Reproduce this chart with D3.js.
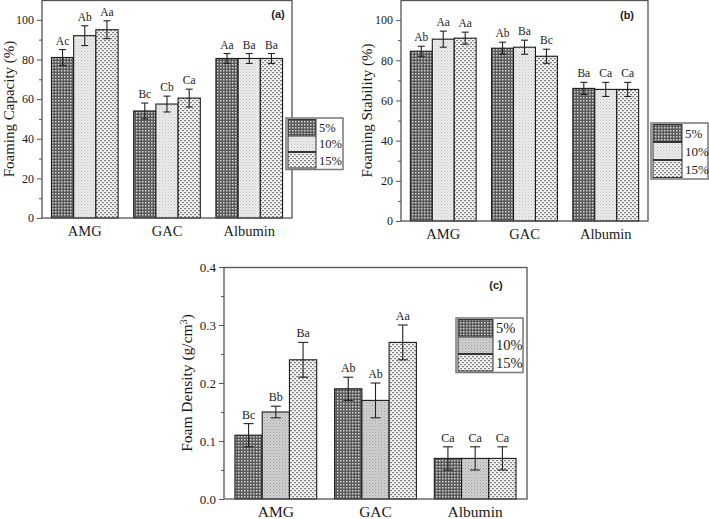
<!DOCTYPE html>
<html><head><meta charset="utf-8">
<script src="https://cdn.jsdelivr.net/npm/d3@7"></script>
<style>body{margin:0;background:#fff}svg{display:block}</style>
</head><body>
<script>
const categories = ["AMG", "GAC", "Albumin"];
const seriesNames = ["5%", "10%", "15%"];

// (a) Foaming capacity (%)  rows: category, cols: series
const capacityValues = [[81, 92, 95], [54, 57.5, 60.5], [80.5, 80.5, 80.5]];
const capacityErrors = [[4, 5, 4.5], [4, 4, 4.5], [2.5, 2.5, 2.5]];
const capacityLetters = [["Ac", "Ab", "Aa"], ["Bc", "Cb", "Ca"], ["Aa", "Ba", "Ba"]];
const capacityTicks = [0, 20, 40, 60, 80, 100];

// (b) Foaming stability (%)
const stabilityValues = [[84.5, 90.5, 91], [86, 86.5, 82], [66, 65.5, 65.5]];
const stabilityErrors = [[2.5, 4, 3], [3, 3.5, 3.5], [3, 3.5, 3.5]];
const stabilityLetters = [["Ab", "Aa", "Aa"], ["Ab", "Ba", "Bc"], ["Ba", "Ca", "Ca"]];
const stabilityTicks = [0, 20, 40, 60, 80, 100];

// (c) Foam density (g/cm3)
const densityValues = [[0.11, 0.15, 0.24], [0.19, 0.17, 0.27], [0.07, 0.07, 0.07]];
const densityErrors = [[0.02, 0.01, 0.03], [0.02, 0.03, 0.03], [0.02, 0.02, 0.02]];
const densityLetters = [["Bc", "Bb", "Ba"], ["Ab", "Ab", "Aa"], ["Ca", "Ca", "Ca"]];
const densityTicks = [0.0, 0.1, 0.2, 0.3, 0.4];

const W = 709, H = 519;
const svg = d3.select("body").append("svg").attr("width", W).attr("height", H);
const defs = svg.append("defs");

function makePatterns(id, dark10) {
  // 5% : dense checker / crosshatch
  let p = defs.append("pattern").attr("id", id + "p0").attr("patternUnits", "userSpaceOnUse").attr("width", 3).attr("height", 3);
  p.append("rect").attr("width", 3).attr("height", 3).attr("fill", "#5a5a5a");
  p.append("rect").attr("x", 1).attr("y", 1).attr("width", 1.5).attr("height", 1.5).attr("fill", "#d4d4d4");
  // 10% : light fine dots
  p = defs.append("pattern").attr("id", id + "p1").attr("patternUnits", "userSpaceOnUse").attr("width", 3).attr("height", 3);
  p.append("rect").attr("width", 3).attr("height", 3).attr("fill", dark10 ? "#d0d0d0" : "#ececec");
  p.append("rect").attr("x", 0).attr("y", 0).attr("width", 1).attr("height", 1).attr("fill", dark10 ? "#a0a0a0" : "#c0c0c0");
  p.append("rect").attr("x", 1.5).attr("y", 1.5).attr("width", 1).attr("height", 1).attr("fill", dark10 ? "#b4b4b4" : "#d2d2d2");
  // 15% : white with gray dashes
  p = defs.append("pattern").attr("id", id + "p2").attr("patternUnits", "userSpaceOnUse").attr("width", 4).attr("height", 4);
  p.append("rect").attr("width", 4).attr("height", 4).attr("fill", "#f2f2f2");
  p.append("rect").attr("x", 0).attr("y", 0).attr("width", 2).attr("height", 1.2).attr("fill", "#808080");
  p.append("rect").attr("x", 2).attr("y", 2).attr("width", 2).attr("height", 1.2).attr("fill", "#808080");
}

function panel(cfg) {
  const g = svg.append("g");
  makePatterns(cfg.id, cfg.dark10);
  const x = d3.scaleBand().domain(categories).range([cfg.x0, cfg.x1]).paddingInner(cfg.pad).paddingOuter(cfg.pad / 2 + 0.02);
  const xs = d3.scaleBand().domain(seriesNames).range([0, x.bandwidth()]);
  const y = d3.scaleLinear().domain(cfg.domain).range([cfg.y1, cfg.y0]);

  categories.forEach((c, i) => {
    seriesNames.forEach((s, j) => {
      const v = cfg.values[i][j], e = cfg.errors[i][j];
      const bx = x(c) + xs(s);
      g.append("rect").attr("x", bx).attr("y", y(v)).attr("width", xs.bandwidth()).attr("height", y(0) - y(v))
        .attr("fill", `url(#${cfg.id}p${j})`).attr("stroke", "#1a1a1a").attr("stroke-width", 1.1);
      const cx = bx + xs.bandwidth() / 2;
      const cw = cfg.cap;
      g.append("line").attr("x1", cx).attr("x2", cx).attr("y1", y(v - e)).attr("y2", y(v + e)).attr("stroke", "#222").attr("stroke-width", 1.1);
      g.append("line").attr("x1", cx - cw).attr("x2", cx + cw).attr("y1", y(v - e)).attr("y2", y(v - e)).attr("stroke", "#222").attr("stroke-width", 1.1);
      g.append("line").attr("x1", cx - cw).attr("x2", cx + cw).attr("y1", y(v + e)).attr("y2", y(v + e)).attr("stroke", "#222").attr("stroke-width", 1.1);
      g.append("text").attr("x", cx).attr("y", y(v + e) - 5).attr("text-anchor", "middle")
        .attr("font-family", "Liberation Serif").attr("font-size", cfg.letterSize).attr("fill", "#1a1a1a").text(cfg.letters[i][j]);
    });
  });

  g.append("rect").attr("x", cfg.x0).attr("y", cfg.y0 + 0.5).attr("width", cfg.x1 - cfg.x0).attr("height", cfg.y1 - cfg.y0 - 0.5)
    .attr("fill", "none").attr("stroke", "#555").attr("stroke-width", 1.3);

  const ax = g.append("g").attr("transform", `translate(${cfg.x0},0)`)
    .call(d3.axisLeft(y).tickValues(cfg.ticks).tickFormat(cfg.fmt).tickSize(5).tickPadding(3));
  ax.select(".domain").remove();
  ax.selectAll("line").attr("stroke", "#555");
  ax.selectAll("text").attr("font-family", "Liberation Serif").attr("font-size", cfg.tickSize).attr("fill", "#1a1a1a");
  const minor = [];
  for (let k = 0; k < cfg.ticks.length - 1; k++) minor.push((cfg.ticks[k] + cfg.ticks[k + 1]) / 2);
  const mx = g.append("g").attr("transform", `translate(${cfg.x0},0)`)
    .call(d3.axisLeft(y).tickValues(minor).tickFormat("").tickSize(3));
  mx.select(".domain").remove();
  mx.selectAll("line").attr("stroke", "#555");

  categories.forEach(c => {
    g.append("text").attr("x", x(c) + x.bandwidth() / 2).attr("y", cfg.y1 + cfg.catDy).attr("text-anchor", "middle")
      .attr("font-family", "Liberation Serif").attr("font-size", cfg.catSize).attr("fill", "#1a1a1a").text(c);
  });

  const t = g.append("text").attr("transform", `translate(${cfg.titleX},${(cfg.y0 + cfg.y1) / 2}) rotate(-90)`)
    .attr("text-anchor", "middle").attr("font-family", "Liberation Serif").attr("font-size", cfg.titleSize).attr("fill", "#1a1a1a");
  t.append("tspan").text(cfg.title);
  if (cfg.sup) {
    t.append("tspan").attr("baseline-shift", "super").attr("font-size", cfg.titleSize * 0.65).text(cfg.sup);
    t.append("tspan").text(")");
  }

  g.append("text").attr("x", cfg.tagX).attr("y", cfg.tagY).attr("text-anchor", "middle")
    .attr("font-family", "Liberation Sans").attr("font-weight", "bold").attr("font-size", 11).attr("fill", "#222").text(cfg.tag);

  const L = cfg.legend;
  g.append("rect").attr("x", L.x).attr("y", L.y).attr("width", L.w).attr("height", L.rowH * 3 + 2)
    .attr("fill", "#fff").attr("stroke", "#777").attr("stroke-width", 1.5);
  seriesNames.forEach((s, j) => {
    g.append("rect").attr("x", L.x + 2).attr("y", L.y + 1.5 + j * L.rowH).attr("width", L.sw).attr("height", L.rowH - 1)
      .attr("fill", `url(#${cfg.id}p${j})`).attr("stroke", "#333").attr("stroke-width", 1);
    g.append("text").attr("x", L.x + L.sw + 5).attr("y", L.y + 1 + j * L.rowH + L.rowH * 0.78)
      .attr("font-family", "Liberation Serif").attr("font-size", L.fs).attr("fill", "#1a1a1a").text(s);
  });
}

panel({
  id: "a", x0: 42, x1: 292, y0: 0, y1: 218, domain: [0, 110], pad: 0.19, cap: 3.5,
  values: capacityValues, errors: capacityErrors, letters: capacityLetters, ticks: capacityTicks,
  fmt: d3.format("d"), tickSize: 12, catSize: 14.5, catDy: 18, letterSize: 11.5,
  title: "Foaming Capacity (%)", titleX: 14, titleSize: 15, tag: "(a)", tagX: 278, tagY: 18,
  legend: { x: 286, y: 118, w: 57, rowH: 16.5, sw: 28, fs: 12.5 }
});

panel({
  id: "b", x0: 401, x1: 648, y0: 0, y1: 221, domain: [0, 110], pad: 0.19, cap: 3.5,
  values: stabilityValues, errors: stabilityErrors, letters: stabilityLetters, ticks: stabilityTicks,
  fmt: d3.format("d"), tickSize: 12, catSize: 14.5, catDy: 18, letterSize: 11.5,
  title: "Foaming Stability (%)", titleX: 372, titleSize: 15, tag: "(b)", tagX: 627, tagY: 19,
  legend: { x: 651, y: 123, w: 57, rowH: 18, sw: 29, fs: 13 }
});

panel({
  id: "c", x0: 224, x1: 527, y0: 267, y1: 499, domain: [0, 0.4], pad: 0.18, cap: 5, dark10: true,
  values: densityValues, errors: densityErrors, letters: densityLetters, ticks: densityTicks,
  fmt: d3.format(".1f"), tickSize: 13, catSize: 15.5, catDy: 18, letterSize: 12,
  title: "Foam Density (g/cm", sup: "3", titleX: 192, titleSize: 15.5, tag: "(c)", tagX: 496, tagY: 289,
  legend: { x: 456, y: 318, w: 67, rowH: 17.5, sw: 35, fs: 14.5 }
});
</script>
</body></html>
